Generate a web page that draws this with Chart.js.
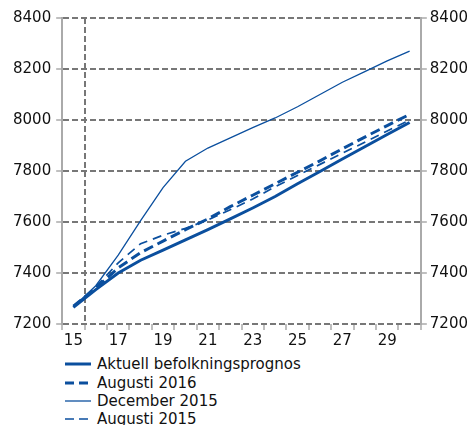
<!DOCTYPE html>
<html>
<head>
<meta charset="utf-8">
<script src="https://cdn.jsdelivr.net/npm/chart.js@4/dist/chart.umd.min.js"></script>
<style>
  html, body { margin: 0; padding: 0; background: #fff; }
  body { width: 471px; height: 425px; position: relative; overflow: hidden; font-family: "DejaVu Sans", Verdana, sans-serif; }
  #wrap { position: absolute; left: 0; top: 0; width: 471px; height: 352px; }
  #legend { position: absolute; left: 65px; top: 355px; font-size: 15px; color: #111; }
  .row { height: 18.4px; display: flex; align-items: center; white-space: nowrap; }
  .row svg { margin-right: 6px; flex: none; }
</style>
</head>
<body>
<div id="wrap"><canvas id="chart"></canvas></div>
<div id="legend"></div>
<script>
// Years (20xx)
const years = ['15', '16', '17', '18', '19', '20', '21', '22', '23', '24', '25', '26', '27', '28', '29', '30'];

// Series values
const aktuell = [7265, 7335, 7400, 7450, 7490, 7530, 7570, 7612, 7655, 7700, 7750, 7798, 7847, 7895, 7943, 7990];
const aug2016 = [7270, 7340, 7420, 7480, 7525, 7570, 7612, 7660, 7705, 7750, 7795, 7840, 7887, 7933, 7978, 8022];
const dec2015 = [7268, 7350, 7470, 7605, 7735, 7838, 7890, 7930, 7970, 8008, 8052, 8100, 8148, 8190, 8232, 8270];
const aug2015 = [7270, 7345, 7440, 7515, 7548, 7575, 7608, 7648, 7690, 7738, 7782, 7826, 7870, 7913, 7957, 8000];

const yTicks = [7200, 7400, 7600, 7800, 8000, 8200, 8400];

const blue = '#0b4f9e';
const gridGrey = '#777';
const axisGrey = '#aaa';
const font = { family: 'DejaVu Sans', size: 15 };

const series = [
    { label: 'Aktuell befolkningsprognos', data: aktuell, width: 3, dash: [] },
    { label: 'Augusti 2016', data: aug2016, width: 3, dash: [10, 5] },
    { label: 'December 2015', data: dec2015, width: 1.3, dash: [] },
    { label: 'Augusti 2015', data: aug2015, width: 1.7, dash: [9, 6] }
];

const yScale = (pos) => ({
    position: pos,
    min: 7200,
    max: 8400,
    afterBuildTicks: axis => { axis.ticks = yTicks.map(v => ({ value: v })); },
    ticks: { color: '#111', font: font, padding: pos === 'left' ? 5 : 3, callback: v => String(v) },
    grid: {
        color: gridGrey,
        lineWidth: 2,
        drawOnChartArea: pos === 'left',
        tickLength: 6,
        tickColor: axisGrey,
        tickWidth: 1.5
    },
    border: { display: true, color: axisGrey, width: 2, dash: [6, 3] }
});

new Chart(document.getElementById('chart'), {
    type: 'line',
    data: {
        labels: years,
        datasets: series.map(s => ({
            label: s.label,
            data: s.data,
            borderColor: blue,
            backgroundColor: blue,
            borderWidth: s.width,
            borderDash: s.dash,
            pointRadius: 0,
            tension: 0,
            fill: false,
            yAxisID: 'y'
        }))
    },
    options: {
        responsive: true,
        maintainAspectRatio: false,
        animation: false,
        layout: { padding: { left: 8, right: 0, top: 18, bottom: 0 } },
        plugins: { legend: { display: false }, tooltip: { enabled: false } },
        scales: {
            x: {
                offset: true,
                grid: {
                    offset: true,
                    color: c => c.index === 1 ? gridGrey : 'rgba(0,0,0,0)',
                    lineWidth: 2,
                    tickLength: 6,
                    tickColor: axisGrey,
                    tickWidth: 1.5
                },
                border: { display: false, dash: [6, 3] },
                ticks: {
                    autoSkip: false,
                    maxRotation: 0,
                    color: '#111',
                    font: font,
                    padding: 2,
                    callback: (v, i) => i % 2 === 0 ? years[i] : ''
                }
            },
            y: yScale('left'),
            y2: yScale('right')
        }
    }
});

// Legend
const legend = document.getElementById('legend');
series.forEach(s => {
    const row = document.createElement('div');
    row.className = 'row';
    row.innerHTML =
        `<svg width="26" height="18"><line x1="0" y1="9" x2="26" y2="9" stroke="${blue}" ` +
        `stroke-width="${s.width}" stroke-dasharray="${s.dash.length ? '9,5' : 'none'}"/></svg>` +
        `<span>${s.label}</span>`;
    legend.appendChild(row);
});
</script>
</body>
</html>
